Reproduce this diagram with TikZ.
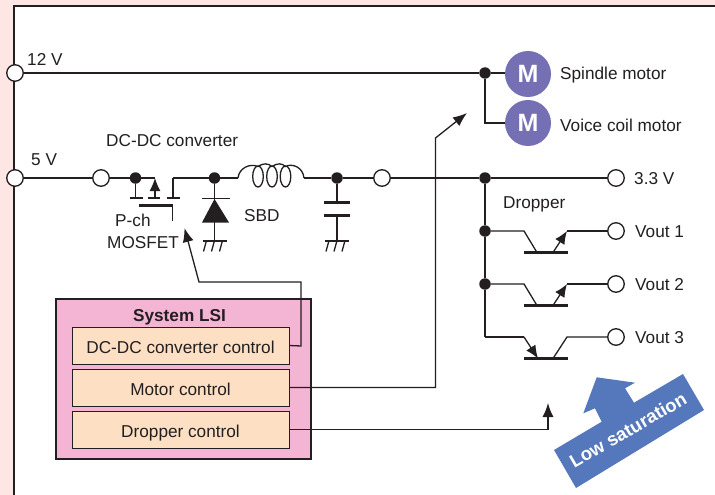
\documentclass[tikz,border=0pt]{standalone}
\usepackage{fontspec}
\setmainfont{Liberation Sans}
\usetikzlibrary{arrows.meta,calc}
\definecolor{ink}{HTML}{231F20}
\definecolor{pagepink}{HTML}{FDE6E4}
\definecolor{lsipink}{HTML}{F4B4D4}
\definecolor{ctrlbox}{HTML}{FDE0C4}
\definecolor{motorpurple}{HTML}{7570B3}
\definecolor{satblue}{HTML}{5578BC}
\tikzset{
  wire/.style={draw=ink,line width=1.3pt},
  frameline/.style={draw=ink,line width=2pt},
  thickbar/.style={draw=ink,line width=2.6pt},
  term/.style={circle,draw=ink,line width=1.3pt,fill=white,minimum size=16.5pt,inner sep=0pt},
  junction/.style={circle,fill=ink,minimum size=11.5pt,inner sep=0pt},
  motor/.style={circle,fill=motorpurple,text=white,minimum size=46pt,inner sep=0pt,font=\fontsize{25}{25}\selectfont\bfseries},
  label/.style={text=ink,inner sep=0pt,anchor=base west,font=\fontsize{17.2}{20}\selectfont},
  ctrl/.style={draw=ink,line width=1pt,fill=ctrlbox,text=ink,minimum width=217pt,minimum height=37pt,inner sep=0pt,text height=15.3pt,text depth=0pt,font=\fontsize{17.2}{20}\selectfont},
  bigtip/.style={-{Latex[length=14pt,width=11pt]}},
  smalltip/.style={-{Latex[length=13pt,width=11pt]}},
  gnd/.pic={
    \draw[thickbar,line width=2pt] (-12,0) -- (12,0);
    \foreach \gx in {-8,0,8} \draw[wire] (\gx,0) -- (\gx-3,11);
  }
}
\begin{document}
\begin{tikzpicture}[x=1pt,y=-1pt]
\useasboundingbox (0,0) rectangle (715,495);
% page
\fill[pagepink] (0,0) rectangle (715,495);
\fill[white] (14,6) rectangle (715,495);
\draw[frameline] (715,6) -- (14,6) -- (14,495);
% 12 V rail
\node[term] (t12) at (15,73) {};
\node[motor] (m1) at (528,74) {M};
\node[motor] (m2) at (528,123) {M};
\node[junction] (j12) at (485,73) {};
\draw[wire] (t12) -- (j12) -- (m1.west |- j12);
\draw[wire] (j12) |- (m2);
\node[label] at (27,65.5) {12 V};
\node[label] at (560,80) {Spindle motor};
\node[label] at (560,131) {Voice coil motor};
% 5 V rail
\node[term] (t5) at (15,178) {};
\node[term] (t5b) at (101,178) {};
\node[junction] (js) at (135.5,178) {};
\node[junction] (jd) at (214.5,178) {};
\node[junction] (jc) at (337,178) {};
\node[term] (t33b) at (382,178) {};
\node[junction] (j33) at (485,178) {};
\node[term] (t33) at (616,178) {};
\node[junction] (j1) at (485,231) {};
\node[junction] (j2) at (485,284) {};
\coordinate (coilL) at (238,178);
\coordinate (coilR) at (304,178);
\coordinate (drain) at (173,178);
\coordinate (bodyTop) at (155,178);
\draw[wire] (t5) -- (t5b) -- (js) -- (bodyTop);
\draw[wire] (drain) -- (jd) -- (coilL);
\draw[wire] (coilR) -- (jc) -- (t33b) -- (j33) -- (t33);
\draw[wire] (j33) -- (j1) -- (j2) -- (485,337) coordinate (j3);
% MOSFET
\draw[wire] (js) -- (135.5,198);
\draw[wire] (drain) -- (173,198);
\draw[wire,smalltip] (155,198) -- (bodyTop);
\foreach \tx/\ta/\tb in {a/130/143,b/148/160,c/167/180} \draw[wire,line width=1.5pt] (\ta,198) -- (\tb,198);
\draw[thickbar,line width=2.2pt] (139,205.5) -- (173,205.5);
\draw[wire] (172.5,205.5) -- (172.5,221);
% diode
\draw[wire] (jd) -- (214.5,240);
\draw[wire,line width=1.5pt] (202,198.5) -- (230,198.5);
\fill[ink] (214.5,199) -- (229,222.5) -- (202,222.5) -- cycle;
\pic at (214.5,240.5) {gnd};
% inductor
\draw[wire] (coilL) .. controls (239,168) and (250,163) .. (258,166.5)
  .. controls (263,163) and (268,163) .. (272,166.5)
  .. controls (277,163) and (282,163) .. (285.5,166.5)
  .. controls (292,163) and (303,167) .. (coilR);
\foreach \cx in {258,272,285.5} \draw[wire] (\cx,176.5) ellipse [x radius=5.3,y radius=10.5];
% capacitor
\draw[wire] (jc) -- (337,202.5);
\draw[thickbar] (324,202.5) -- (350,202.5);
\draw[thickbar] (324,215.5) -- (350,215.5);
\draw[wire] (337,215.5) -- (337,240);
\pic at (337,240.5) {gnd};
% transistors
\foreach \nm/\yy in {1/231,2/284}{
  \node[term] (v\nm) at (616,\yy) {};
  \draw[wire] (j\nm) -- (524,\yy) -- (537,\yy+21.5);
  \draw[thickbar] (524,\yy+21.5) -- (568,\yy+21.5);
  \draw[wire,smalltip] (553,\yy+21.5) -- (567,\yy);
  \draw[wire] (567,\yy) -- (v\nm);
}
\node[term] (v3) at (616,337) {};
\draw[wire] (j3) -- (524,337);
\draw[wire,smalltip] (524,337) -- (538,358.5);
\draw[thickbar] (524,358.5) -- (568,358.5);
\draw[wire] (553,358.5) -- (567,337) -- (v3);
% labels
\node[label] at (31,165) {5 V};
\node[label] at (106,146) {DC-DC converter};
\node[label] at (115,226) {P-ch};
\node[label] at (107,248) {MOSFET};
\node[label] at (244,221) {SBD};
\node[label] at (503,208) {Dropper};
\node[label] at (634,184) {3.3 V};
\node[label] at (635,237) {Vout 1};
\node[label] at (635,290) {Vout 2};
\node[label] at (635,343) {Vout 3};
% system LSI
\node[draw=ink,line width=1.2pt,fill=lsipink,minimum width=255pt,minimum height=160pt,inner sep=0pt] (lsi) at (183.5,379) {};
\node[text=ink,inner sep=0pt,anchor=base,font=\fontsize{17.2}{20}\selectfont\bfseries] (lsit) at (179.5,321) {System LSI};
\node[ctrl] (c1) at (180.5,345.5) {DC-DC converter control};
\node[ctrl] (c2) at (180.5,387.5) {Motor control};
\node[ctrl] (c3) at (180.5,429.5) {Dropper control};
% control connectors
\coordinate (gateTip) at (184.5,228);
\coordinate (motorTip) at (467,113);
\coordinate (dropTip) at (548,403);
\draw[wire,bigtip] (c1.east) -- (301,346) -- (301,282) -- (199,282) -- (gateTip);
\draw[wire,bigtip] (c2.east) -- (435.5,387.5) -- (435.5,138) -- (motorTip);
\draw[wire,bigtip] (c3.east) -- (548,429.5) -- (dropTip);
% low saturation
\fill[satblue] (554,450) -- (601.7,421.7) -- (595,408.3) -- (583.3,413.3) -- (596.7,377.3) -- (635,382.7) -- (625,388.3) -- (634,402.7) -- (683,374) -- (704,410) -- (576,488) -- cycle;
\node[text=white,inner sep=0pt,rotate=30,font=\fontsize{18.5}{20}\selectfont\bfseries] (sat) at (628,430) {Low saturation};
\end{tikzpicture}
\end{document}
